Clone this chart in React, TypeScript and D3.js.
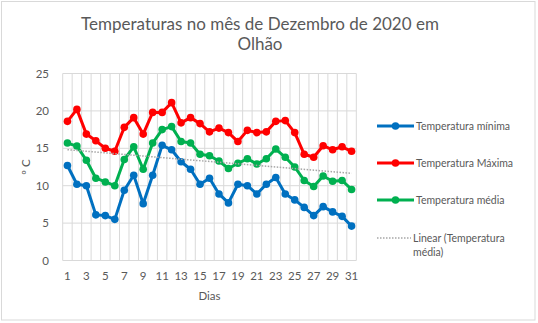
import React from "react";
import * as d3 from "d3";

const days = d3.range(1, 32);
const tMin = [12.7, 10.2, 10.0, 6.1, 6.0, 5.5, 9.4, 11.4, 7.6, 11.4, 15.4, 14.8, 13.2, 12.2, 10.2, 11.0, 8.9, 7.7, 10.2, 10.0, 8.9, 10.2, 11.1, 8.9, 8.1, 7.1, 6.0, 7.2, 6.5, 5.9, 4.6];
const tMax = [18.6, 20.2, 16.9, 16.0, 15.0, 14.6, 17.8, 19.1, 16.9, 19.8, 19.8, 21.1, 18.4, 19.1, 18.3, 17.2, 17.7, 17.1, 15.9, 17.4, 17.1, 17.2, 18.6, 18.7, 17.1, 14.2, 13.8, 15.35, 14.8, 15.2, 14.6];
const tAvg = [15.7, 15.3, 13.4, 11.0, 10.5, 10.0, 13.5, 15.2, 12.2, 15.7, 17.5, 17.9, 15.9, 15.7, 14.2, 14.0, 13.3, 12.3, 13.0, 13.6, 12.9, 13.6, 14.9, 13.8, 12.5, 10.7, 9.9, 11.3, 10.6, 10.7, 9.5];
const yTicks = [0, 5, 10, 15, 20, 25];
const xTickDays = days.filter((d) => d % 2 === 1);

const seriesNames = ["Temperatura mínima", "Temperatura Máxima", "Temperatura média"];
const seriesColors = ["#0070C0", "#FF0000", "#00B050"];

export default function App() {
  const W = 538, H = 323;
  const left = 62.7, right = 356.3, top = 73.5, bottom = 260.5;
  const x = d3.scaleBand<number>().domain(days).range([left, right]);
  const cx = (d: number) => (x(d) as number) + x.bandwidth() / 2;
  const y = d3.scaleLinear().domain([0, 25]).range([bottom, top]);
  const font = "Lato, 'Open Sans', sans-serif";
  const grey = "#595959";

  const line = d3.line<number>().x((_, i) => cx(days[i])).y((v) => y(v));
  const all = [tMin, tMax, tAvg];

  // Linear trendline of average (least squares)
  const mx = d3.mean(days)!;
  const my = d3.mean(tAvg)!;
  const slope = d3.sum(days, (d, i) => (d - mx) * (tAvg[i] - my)) / d3.sum(days, (d) => (d - mx) ** 2);
  const intercept = my - slope * mx;
  const trendPts: [number, number][] = [days[0], days[days.length - 1]].map((d) => [cx(d), y(intercept + slope * d)]);

  const legendY = [126, 163, 200];

  return (
    <svg width={W} height={H} style={{ position: "absolute", left: 0, top: 0 }}>
      <rect x={0} y={0} width={W} height={H} fill="#fff" />
      <rect x={1.5} y={1.5} width={533.5} height={318.5} fill="#fff" stroke="#d9d9d9" />
      <text x={260} y={30} textAnchor="middle" fontFamily={font} fontSize={17} fill={grey}>
        Temperaturas no mês de Dezembro de 2020 em
      </text>
      <text x={260} y={50} textAnchor="middle" fontFamily={font} fontSize={17} fill={grey}>
        Olhão
      </text>
      {/* horizontal grid */}
      {yTicks.map((t) => (
        <line key={"h" + t} x1={left} x2={right} y1={y(t)} y2={y(t)} stroke="#d9d9d9" strokeWidth={1} />
      ))}
      {/* vertical grid at category boundaries */}
      {days.concat([32]).map((d, i) => {
        const xx = left + i * x.bandwidth();
        return <line key={"v" + d} x1={xx} x2={xx} y1={top} y2={bottom} stroke="#d9d9d9" strokeWidth={1} />;
      })}
      {yTicks.map((t) => (
        <text key={"yl" + t} x={49} y={y(t) + 4} textAnchor="end" fontFamily={font} fontSize={11.5} fill={grey}>
          {t}
        </text>
      ))}
      {xTickDays.map((d) => (
        <text key={"xl" + d} x={cx(d)} y={280} textAnchor="middle" fontFamily={font} fontSize={11.5} fill={grey}>
          {d}
        </text>
      ))}
      <text x={(left + right) / 2} y={300} textAnchor="middle" fontFamily={font} fontSize={11.5} fill={grey}>
        Dias
      </text>
      <text transform={`translate(30,167) rotate(-90)`} textAnchor="middle" fontFamily={font} fontSize={11.5} fill={grey}>
        º C
      </text>
      {/* series */}
      {all.map((s, k) => (
        <g key={"s" + k}>
          <path d={line(s) || ""} fill="none" stroke={seriesColors[k]} strokeWidth={3} strokeLinejoin="round" />
          {s.map((v, i) => (
            <circle key={i} cx={cx(days[i])} cy={y(v)} r={3.8} fill={seriesColors[k]} />
          ))}
        </g>
      ))}
      <line x1={trendPts[0][0]} y1={trendPts[0][1]} x2={trendPts[1][0]} y2={trendPts[1][1]} stroke="#a6a6a6" strokeWidth={1.5} strokeDasharray="1.5 1.5" />
      {/* legend */}
      {seriesNames.map((n, k) => (
        <g key={"lg" + k}>
          <line x1={377} x2={414} y1={legendY[k]} y2={legendY[k]} stroke={seriesColors[k]} strokeWidth={3} />
          <circle cx={395.5} cy={legendY[k]} r={3.8} fill={seriesColors[k]} />
          <text x={416} y={legendY[k] + 3.5} fontFamily={font} fontSize={10.5} fill={grey}>
            {n}
          </text>
        </g>
      ))}
      <line x1={377} x2={411} y1={238} y2={238} stroke="#a6a6a6" strokeWidth={1.5} strokeDasharray="1.5 1.5" />
      <text x={413} y={241.5} fontFamily={font} fontSize={10.5} fill={grey}>
        Linear (Temperatura
      </text>
      <text x={413} y={255.5} fontFamily={font} fontSize={10.5} fill={grey}>
        média)
      </text>
    </svg>
  );
}
